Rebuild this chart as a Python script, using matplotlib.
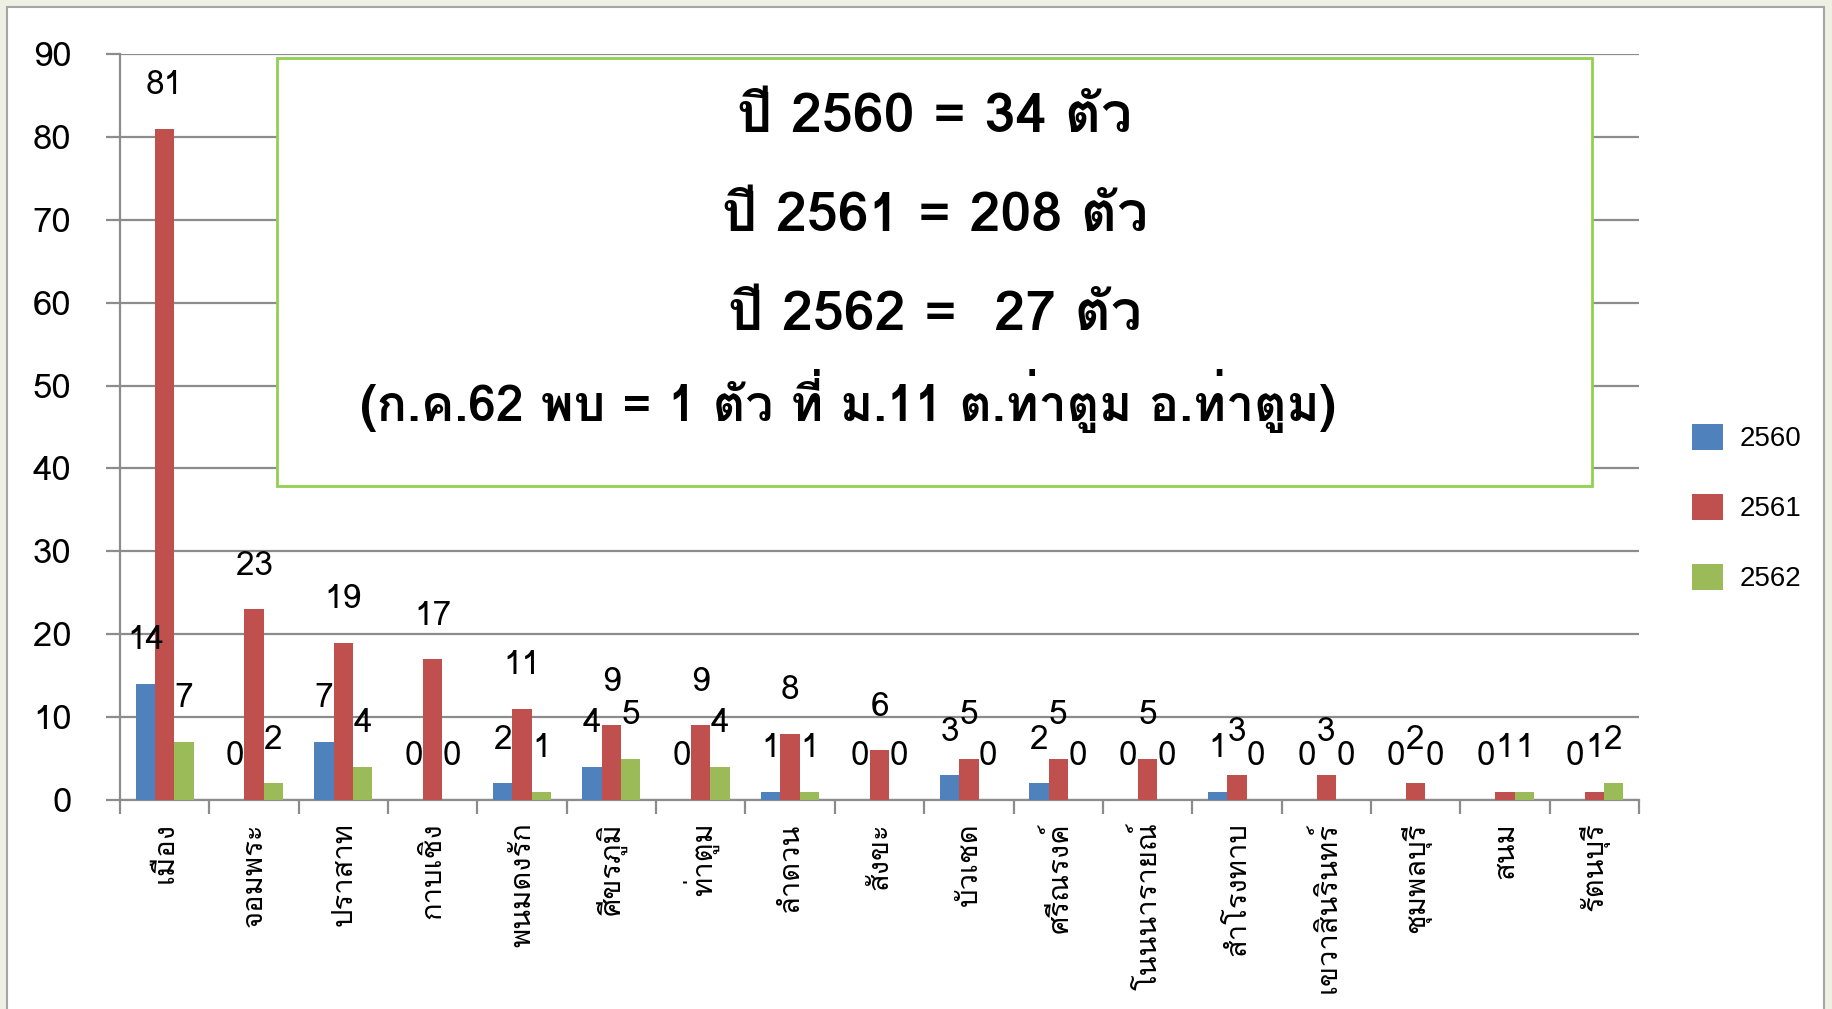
import matplotlib
matplotlib.use("Agg")
import matplotlib.pyplot as plt
from matplotlib import font_manager
from matplotlib.ft2font import FT2Font
from matplotlib.patches import Rectangle, Patch
import matplotlib.patheffects as pe
import numpy as np

# data
districts = ["เมือง", "จอมพระ", "ปราสาท", "กาบเชิง", "พนมดงรัก", "ศีขรภูมิ",
             "ท่าตูม", "ลำดวน", "สังขะ", "บัวเชด", "ศรีณรงค์", "โนนนารายณ์",
             "สำโรงทาบ", "เขวาสินรินทร์", "ชุมพลบุรี", "สนม", "รัตนบุรี"]
y2560 = [14, 0, 7, 0, 2, 4, 0, 1, 0, 3, 2, 0, 1, 0, 0, 0, 0]
y2561 = [81, 23, 19, 17, 11, 9, 9, 8, 6, 5, 5, 5, 3, 3, 2, 1, 1]
y2562 = [7, 2, 4, 0, 1, 5, 4, 1, 0, 0, 0, 0, 0, 0, 0, 1, 2]
series_names = ["2560", "2561", "2562"]
colors = ["#4F81BD", "#C0504D", "#9BBB59"]

summary_lines = ["ปี 2560 = 34 ตัว", "ปี 2561 = 208 ตัว", "ปี 2562 =  27 ตัว"]
note_line = "(ก.ค.62 พบ = 1 ตัว ที่ ม.11 ต.ท่าตูม อ.ท่าตูม)"


def find_thai_family():
    # look for installed fonts with Thai glyphs, note which have a bold face
    prefs = ["Tahoma", "Noto Sans Thai", "Noto Sans Thai UI", "Loma", "Garuda",
             "Sarabun", "Waree", "Umpush", "Kinnari", "Norasi", "FreeSans"]
    weights = {}
    for f in font_manager.fontManager.ttflist:
        try:
            cmap = FT2Font(f.fname).get_charmap()
        except Exception:
            continue
        if 0x0E01 in cmap and 0x0E35 in cmap:
            w = f.weight if isinstance(f.weight, int) else 700 * ("bold" in str(f.weight))
            weights.setdefault(f.name, set()).add(w)
    if not weights:
        return None, False
    ordered = [p for p in prefs if p in weights] + sorted(n for n in weights if n not in prefs)
    for name in ordered:
        if max(weights[name]) >= 600:
            return name, True
    return ordered[0], False


thai, has_bold = find_thai_family()
THAI = [thai, "DejaVu Sans"] if thai else ["DejaVu Sans"]
plt.rcParams["font.family"] = THAI

W, H = 1833, 1009
fig = plt.figure(figsize=(W / 100, H / 100), dpi=100, facecolor="#EDF0E3")

# white slide panel
fig.add_artist(Rectangle((7 / W, -0.02), (1824 - 7) / W, 1 - 7 / H + 0.02,
                         transform=fig.transFigure, facecolor="white",
                         edgecolor="#A5A5A5", lw=1.5, zorder=-1))

ax = fig.add_axes([120 / W, 209 / H, (1639 - 120) / W, (800 - 54) / H])
ax.patch.set_alpha(0)

x = np.arange(len(districts))
bw = 0.216
for i, (vals, name, c) in enumerate(zip([y2560, y2561, y2562], series_names, colors)):
    xs = x + (i - 1) * bw
    ax.bar(xs, vals, width=bw, color=c, label=name, zorder=3)
    for xi, v in zip(xs, vals):
        ax.annotate(str(v), (xi, v), xytext=(0, 31), textcoords="offset points",
                    ha="center", va="center", fontsize=24, zorder=4)

ax.set_xlim(-0.5, len(districts) - 0.5)
ax.set_ylim(0, 90)
ax.set_yticks(range(0, 91, 10))
ax.grid(axis="y", color="#8C8C8C", lw=1.6, zorder=0)
ax.set_axisbelow(True)

for s in ["top", "right"]:
    ax.spines[s].set_visible(False)
for s in ["left", "bottom"]:
    ax.spines[s].set_color("#8C8C8C")
    ax.spines[s].set_linewidth(1.6)

ax.tick_params(axis="y", length=10, width=1.6, color="#8C8C8C", labelsize=25, pad=25)
ax.set_xticks(x)
ax.set_xticklabels(districts, rotation=90, fontsize=21, va="top")
ax.tick_params(axis="x", which="major", length=0, pad=16)
ax.set_xticks(np.arange(-0.5, len(districts), 1.0), minor=True)
ax.tick_params(axis="x", which="minor", length=10, width=1.6, color="#8C8C8C")

# summary text box
bx0, bx1, by0, by1 = 277, 1592, 58, 486
fig.add_artist(Rectangle((bx0 / W, 1 - by1 / H), (bx1 - bx0) / W, (by1 - by0) / H,
                         transform=fig.transFigure, facecolor="white",
                         edgecolor="#92D050", lw=2, zorder=5))
bold_fx = [] if has_bold else [pe.withStroke(linewidth=1.8, foreground="black")]
for line, yb in zip(summary_lines, [132, 231, 330]):
    fig.text(935 / W, 1 - yb / H, line, ha="center", va="baseline",
             fontsize=40, fontweight="bold", zorder=6, path_effects=bold_fx)
fig.text(848 / W, 1 - 421 / H, note_line, ha="center", va="baseline",
         fontsize=36, fontweight="bold", zorder=6, path_effects=bold_fx)

handles = [Patch(facecolor=c, edgecolor="none") for c in colors]
ax.legend(handles, series_names, loc="upper left",
          bbox_to_anchor=(1692 / W, 1 - 424 / H), bbox_transform=fig.transFigure,
          frameon=False, handlelength=1.1, handleheight=1.05, handletextpad=0.6,
          labelspacing=1.5, borderpad=0, borderaxespad=0,
          prop={"family": ["Liberation Sans", "DejaVu Sans"], "size": 20})

fig.savefig("out.png", dpi=100, facecolor=fig.get_facecolor())
